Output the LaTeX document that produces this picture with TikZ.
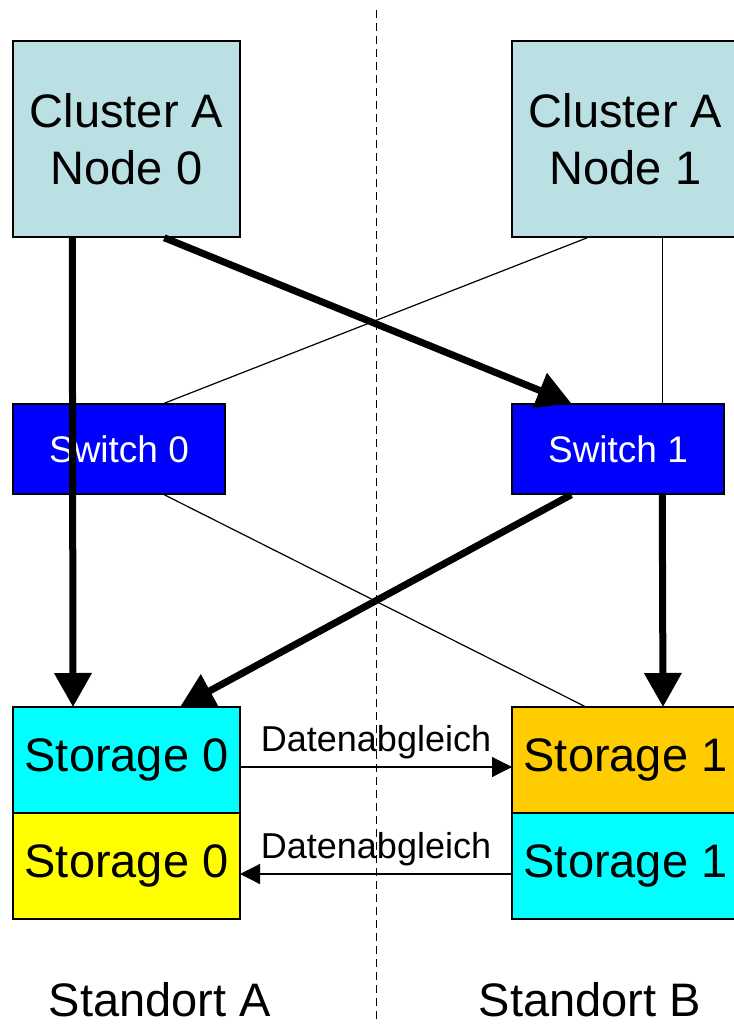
\documentclass[tikz,border=0pt]{standalone}
\usepackage{fontspec}
\setmainfont{Liberation Sans}
\usetikzlibrary{arrows.meta,positioning}
\definecolor{hostfill}{HTML}{BBE0E3}
\definecolor{storecyan}{HTML}{00FFFF}
\definecolor{storeyellow}{HTML}{FFFF00}
\definecolor{storeorange}{HTML}{FFCC00}
\definecolor{switchblue}{HTML}{0000FF}
\tikzset{
  hostbox/.style={draw,line width=1.5pt,fill=hostfill,minimum width=227pt,minimum height=196pt,inner sep=0pt,align=center,font=\fontsize{47}{57}\selectfont},
  switchbox/.style={draw,line width=1.5pt,fill=switchblue,text=white,minimum width=212pt,minimum height=90pt,inner sep=0pt,font=\fontsize{37}{44}\selectfont},
  storebox/.style={draw,line width=1.5pt,minimum width=227pt,minimum height=106pt,inner sep=0pt,outer sep=0pt,font=\fontsize{47}{56}\selectfont},
  fatarrow/.style={line width=7pt,-{Triangle[length=34pt,width=36pt]}},
  thinlink/.style={line width=1.2pt},
  syncarrow/.style={line width=1.2pt,-{Triangle[length=20pt,width=20pt]}},
  synclabel/.style={midway,above=7pt,inner sep=0pt,font=\fontsize{36}{42}\selectfont},
  sitelabel/.style={anchor=base,inner sep=0pt,font=\fontsize{47}{56}\selectfont}
}

\begin{document}
\begin{tikzpicture}[x=1pt,y=-1pt]
  \useasboundingbox (0,0) rectangle (733,1024);
  % Trennlinie zwischen den Standorten
  \coordinate (divtop) at (376,10);
  \coordinate (divbot) at (376,1024);
  \draw[line width=1pt,dash pattern=on 8pt off 5pt] (divtop) -- (divbot);

  \node[hostbox] (n0) at (126.5,139) {Cluster A\\Node 0};
  \node[hostbox] (n1) at (625.5,139) {Cluster A\\Node 1};
  \node[switchbox] (sw0) at (119,449) {Switch 0};
  \node[switchbox] (sw1) at (618,449) {Switch 1};
  \node[storebox,fill=storecyan] (st0a) at (126.5,760) {Storage 0};
  \node[storebox,fill=storeyellow,below=0pt of st0a] (st0b) {Storage 0};
  \node[storebox,fill=storeorange] (st1a) at (625.5,760) {Storage 1};
  \node[storebox,fill=storecyan,below=0pt of st1a] (st1b) {Storage 1};

  % duenne Verbindungen
  \draw[thinlink] ([xshift=76pt]n1.south west) -- ([xshift=152pt]sw0.north west);
  \draw[thinlink] ([xshift=151pt]n1.south west) -- ([xshift=151pt]sw1.north west);
  \draw[thinlink] ([xshift=152pt]sw0.south west) -- ([xshift=74pt]st1a.north west);

  % aktive Pfade
  \draw[fatarrow] ([xshift=60pt]n0.south west) -- ([xshift=60pt]st0a.north west);
  \draw[fatarrow] ([xshift=152pt]n0.south west) -- ([xshift=60pt]sw1.north west);
  \draw[fatarrow] ([xshift=60pt]sw1.south west) -- ([xshift=167pt]st0a.north west);
  \draw[fatarrow] ([xshift=151pt]sw1.south west) -- ([xshift=151pt]st1a.north west);

  % Spiegelung
  \draw[syncarrow] ([yshift=-7pt]st0a.east) -- node[synclabel] {Datenabgleich} ([yshift=-7pt]st1a.west);
  \draw[syncarrow] ([yshift=-8pt]st1b.west) -- node[synclabel] {Datenabgleich} ([yshift=-8pt]st0b.east);

  \node[sitelabel] (siteA) at (160,1016) {Standort A};
  \node[sitelabel] (siteB) at (590,1016) {Standort B};
\end{tikzpicture}
\end{document}
